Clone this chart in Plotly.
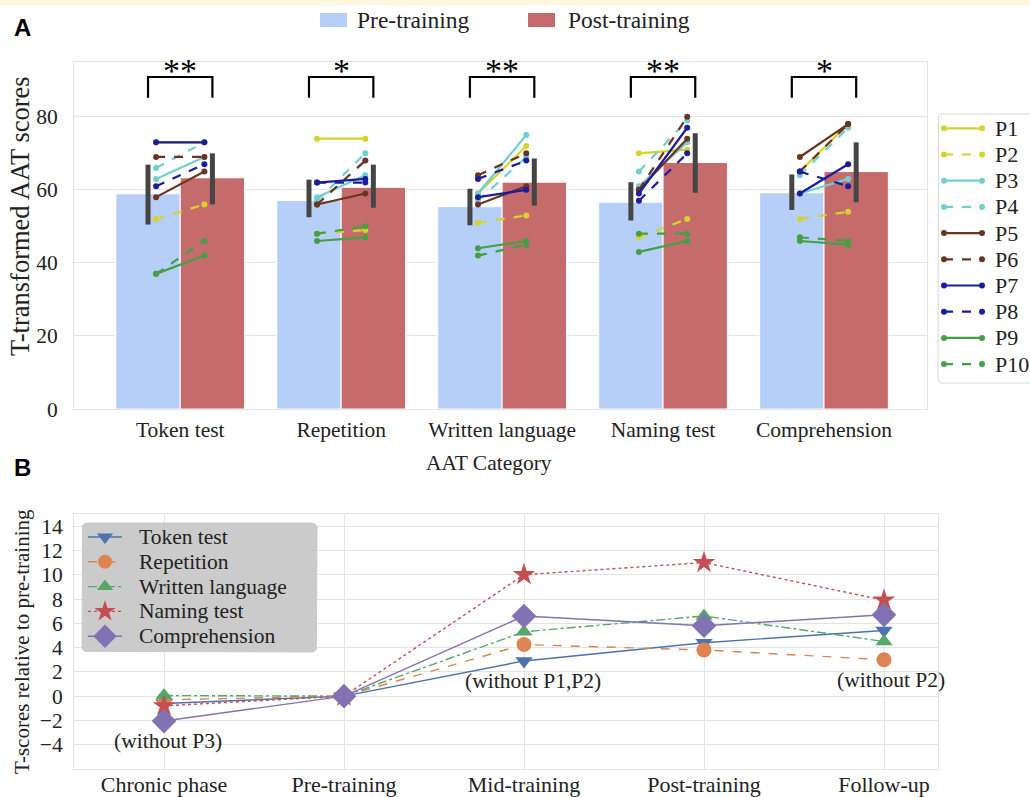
import math
import plotly.graph_objects as go

# ---------------- Panel A data ----------------
categories = ["Token test", "Repetition", "Written language", "Naming test", "Comprehension"]
pre_means = [58.9, 57.1, 55.4, 56.6, 59.2]
post_means = [63.3, 60.7, 62.1, 67.5, 65.0]
pre_ci_low = [50.5, 52.5, 50.3, 51.6, 54.5]
pre_ci_high = [66.9, 62.8, 60.3, 62.1, 64.2]
post_ci_low = [56.0, 55.1, 55.7, 59.2, 56.6]
post_ci_high = [70.0, 66.9, 68.6, 75.5, 73.0]
significance = ["**", "*", "**", "**", "*"]

participants = ["P1", "P2", "P3", "P4", "P5", "P6", "P7", "P8", "P9", "P10"]
pre_scores = {
    "P1": [73, 74, 59, 70, 65],
    "P2": [52, 48, 51, 47, 52],
    "P3": [63, 58, 59, 61, 59],
    "P4": [66, 57, 57, 65, 64],
    "P5": [58, 56, 56, 60, 69],
    "P6": [69, 56, 64, 60, 65],
    "P7": [73, 62, 58, 59, 59],
    "P8": [61, 62, 63, 57, 65],
    "P9": [37, 46, 44, 43, 46],
    "P10": [37, 48, 42, 48, 47],
}
post_scores = {
    "P1": [73, 74, 72, 71, 78],
    "P2": [56, 49, 53, 52, 54],
    "P3": [69, 64, 75, 73, 63],
    "P4": [73, 70, 69, 79, 77],
    "P5": [65, 59, 61, 74, 78],
    "P6": [69, 68, 70, 80, 78],
    "P7": [73, 63, 60, 77, 67],
    "P8": [67, 62, 68, 70, 61],
    "P9": [42, 47, 46, 46, 45],
    "P10": [46, 50, 45, 48, 46],
}
participant_colors = {
    "P1": "#d6d22e", "P2": "#d6d22e",
    "P3": "#72cfcf", "P4": "#72cfcf",
    "P5": "#6b3420", "P6": "#6b3420",
    "P7": "#1c1c9c", "P8": "#1c1c9c",
    "P9": "#45a045", "P10": "#45a045",
}

# ---------------- Panel B data ----------------
phases = ["Chronic phase", "Pre-training", "Mid-training", "Post-training", "Follow-up"]
token_rel = [-0.6, 0.0, 2.9, 4.4, 5.4]
repetition_rel = [-0.3, 0.0, 4.25, 3.8, 3.0]
written_rel = [0.05, 0.0, 5.3, 6.6, 4.5]
naming_rel = [-0.8, 0.0, 10.0, 11.0, 7.9]
comprehension_rel = [-2.05, 0.0, 6.6, 5.8, 6.7]

FONT = "Liberation Serif, Times New Roman, serif"
TXT = "#222222"
GRID = "#e3e3e3"
W, H = 1030, 797
PRE_COL, POST_COL = "#b6cff8", "#c66b6b"

fig = go.Figure()
idx = list(range(len(categories)))

fig.add_trace(go.Bar(
    x=idx, y=pre_means, name="Pre-training", marker_color=PRE_COL,
    marker_line_color="white", marker_line_width=1, showlegend=False,
    error_y=dict(type="data", symmetric=False,
                 array=[h - m for h, m in zip(pre_ci_high, pre_means)],
                 arrayminus=[m - l for l, m in zip(pre_ci_low, pre_means)],
                 thickness=5, width=0, color="#454545"),
    xaxis="x", yaxis="y"))
fig.add_trace(go.Bar(
    x=idx, y=post_means, name="Post-training", marker_color=POST_COL,
    marker_line_color="white", marker_line_width=1, showlegend=False,
    error_y=dict(type="data", symmetric=False,
                 array=[h - m for h, m in zip(post_ci_high, post_means)],
                 arrayminus=[m - l for l, m in zip(post_ci_low, post_means)],
                 thickness=5, width=0, color="#454545"),
    xaxis="x", yaxis="y"))

for i, p in enumerate(participants):
    xs, ys = [], []
    for c in idx:
        xs += [c - 0.15, c + 0.15, None]
        ys += [pre_scores[p][c], post_scores[p][c], None]
    fig.add_trace(go.Scatter(
        x=xs, y=ys, mode="lines+markers", name=p, showlegend=False,
        line=dict(color=participant_colors[p], width=2.2,
                  dash="solid" if i % 2 == 0 else "dash"),
        marker=dict(color=participant_colors[p], size=6),
        xaxis="x", yaxis="y"))

# significance brackets
bracket_top = 90.9
bracket_bottom = 85.2
shapes = []
annotations = []
for c, s in zip(idx, significance):
    shapes.append(dict(type="path", xref="x", yref="y",
                       path=f"M {c-0.2},{bracket_bottom} L {c-0.2},{bracket_top} L {c+0.2},{bracket_top} L {c+0.2},{bracket_bottom}",
                       line=dict(color="black", width=2.2)))
    annotations.append(dict(x=c, y=bracket_top, xref="x", yref="y", text=s,
                            showarrow=False, yanchor="bottom", yshift=-14,
                            font=dict(family=FONT, size=34, color="black")))

# ---------------- Panel B traces ----------------
pidx = list(range(len(phases)))
series_b = [
    ("Token test", token_rel, "#4c72b0", "solid", "triangle-down", 15),
    ("Repetition", repetition_rel, "#dd8452", "dash", "circle", 15),
    ("Written language", written_rel, "#55a868", "dashdot", "triangle-up", 15),
    ("Naming test", naming_rel, "#c44e52", "dot", "star", 17),
    ("Comprehension", comprehension_rel, "#8172b3", "solid", "diamond", 19),
]
for name, vals, col, dash, sym, sz in series_b:
    fig.add_trace(go.Scatter(
        x=pidx, y=vals, mode="lines+markers", name=name, showlegend=False,
        line=dict(color=col, width=1.4, dash=dash),
        marker=dict(color=col, symbol=sym, size=sz),
        xaxis="x2", yaxis="y2"))

notes_b = [("(without P3)", 0.02, -3.66), ("(without P1,P2)", 2.05, 1.21), ("(without P2)", 4.04, 1.3)]
for t, xx, yy in notes_b:
    annotations.append(dict(x=xx, y=yy, xref="x2", yref="y2", text=t, showarrow=False,
                            font=dict(family=FONT, size=21.5, color=TXT)))


# ---------------- hand-drawn legends on a pixel overlay axis ----------------
def px(x):
    return x / W


def py(y):
    return 1 - y / H


def rounded_box(x0, y0, x1, y1, r):
    xs, ys = [], []
    corners = [(x1 - r, y0 + r, -90, 0), (x1 - r, y1 - r, 0, 90),
               (x0 + r, y1 - r, 90, 180), (x0 + r, y0 + r, 180, 270)]
    for cx, cy, a0, a1 in corners:
        for k in range(7):
            a = math.radians(a0 + (a1 - a0) * k / 6)
            xs.append(cx + r * math.cos(a))
            ys.append(cy + r * math.sin(a))
    xs.append(xs[0])
    ys.append(ys[0])
    return xs, ys


def overlay(**kw):
    fig.add_trace(go.Scatter(xaxis="x3", yaxis="y3", showlegend=False, hoverinfo="skip", **kw))


# top legend (Pre / Post)
for (x0, x1), (tx, label), col in [((320, 347), (355, "Pre-training"), PRE_COL),
                                   ((528, 555), (566, "Post-training"), POST_COL)]:
    overlay(x=[x0, x1, x1, x0, x0], y=[13, 13, 27, 27, 13], mode="lines", fill="toself",
            fillcolor=col, line=dict(width=0, color=col))
    annotations.append(dict(x=px(tx), y=py(20), xref="paper", yref="paper", text=label,
                            showarrow=False, xanchor="left", yanchor="middle",
                            font=dict(family=FONT, size=23.5, color=TXT)))

# participant legend
bx, by = rounded_box(938, 114, 1040, 383, 4)
overlay(x=bx, y=by, mode="lines", fill="toself", fillcolor="white",
        line=dict(color="#d8d8d8", width=1))
for i, p in enumerate(participants):
    yc = 128.3 + i * 26.2
    overlay(x=[944, 982], y=[yc, yc], mode="lines+markers",
            line=dict(color=participant_colors[p], width=2.2, dash="solid" if i % 2 == 0 else "dash"),
            marker=dict(color=participant_colors[p], size=6))
    annotations.append(dict(x=px(993), y=py(yc), xref="paper", yref="paper", text=p,
                            showarrow=False, xanchor="left", yanchor="middle",
                            font=dict(family=FONT, size=22, color=TXT)))

# panel B legend
bx, by = rounded_box(82, 523, 317, 652, 5)
overlay(x=bx, y=by, mode="lines", fill="toself", fillcolor="rgba(200,200,200,0.95)",
        line=dict(color="rgba(200,200,200,0.95)", width=1))
for i, (name, vals, col, dash, sym, sz) in enumerate(series_b):
    yc = 537 + i * 24.8
    overlay(x=[88, 122], y=[yc, yc], mode="lines", line=dict(color=col, width=1.4, dash=dash))
    overlay(x=[105], y=[yc], mode="markers", marker=dict(color=col, symbol=sym, size=sz - 1))
    annotations.append(dict(x=px(137), y=py(yc), xref="paper", yref="paper", text=name,
                            showarrow=False, xanchor="left", yanchor="middle",
                            font=dict(family=FONT, size=21.5, color=TXT)))

# axis titles placed as text
annotations.append(dict(x=px(20), y=py(216), xref="paper", yref="paper",
                        text="T-transformed AAT scores", textangle=-90, showarrow=False,
                        xanchor="center", yanchor="middle", font=dict(family=FONT, size=26.5, color=TXT)))
annotations.append(dict(x=px(22), y=py(642), xref="paper", yref="paper",
                        text="T-scores relative to pre-training", textangle=-90, showarrow=False,
                        xanchor="center", yanchor="middle", font=dict(family=FONT, size=21, color=TXT)))
annotations.append(dict(x=px(489), y=py(463), xref="paper", yref="paper",
                        text="AAT Category", showarrow=False,
                        xanchor="center", yanchor="middle", font=dict(family=FONT, size=21.5, color=TXT)))

# panel labels
annotations.append(dict(x=px(12), y=py(28), xref="paper", yref="paper", text="<b>A</b>",
                        showarrow=False, xanchor="left", yanchor="middle",
                        font=dict(family="Liberation Sans Narrow, Liberation Sans, Arial", size=24, color="black")))
annotations.append(dict(x=px(12), y=py(467), xref="paper", yref="paper", text="<b>B</b>",
                        showarrow=False, xanchor="left", yanchor="middle",
                        font=dict(family="Liberation Sans Narrow, Liberation Sans, Arial", size=24, color="black")))

# top cream band
shapes.append(dict(type="rect", xref="paper", yref="paper", x0=0, x1=1, y0=py(5), y1=1,
                   fillcolor="#fdf7e0", line=dict(width=0), layer="below"))

fig.update_layout(
    width=W, height=H, margin=dict(l=0, r=0, t=0, b=0, autoexpand=False),
    paper_bgcolor="white", plot_bgcolor="rgba(0,0,0,0)",
    font=dict(family=FONT, size=21.5, color=TXT),
    barmode="group", bargap=0.2, bargroupgap=0, showlegend=False,
    shapes=shapes, annotations=annotations,
    xaxis=dict(domain=[px(74), px(927)], anchor="y", range=[-0.66, 4.64], automargin=False,
               tickmode="array", tickvals=idx, ticktext=categories,
               showgrid=False, zeroline=False, showline=True, mirror=True,
               linecolor=GRID, linewidth=1, ticklabelstandoff=1, tickfont=dict(size=21.5)),
    yaxis=dict(domain=[py(409), py(62)], anchor="x", range=[0, 95], automargin=False,
               tickvals=[0, 20, 40, 60, 80], showgrid=True, gridcolor=GRID,
               zeroline=False, showline=True, mirror=True, linecolor=GRID, linewidth=1,
               ticklabelstandoff=11, tickfont=dict(size=21.5)),
    xaxis2=dict(domain=[px(74), px(938)], anchor="y2", range=[-0.5, 4.3], automargin=False,
                tickmode="array", tickvals=pidx, ticktext=phases,
                showgrid=True, gridcolor=GRID, zeroline=False, showline=True, mirror=True,
                linecolor=GRID, linewidth=1, ticklabelstandoff=-4, tickfont=dict(size=22)),
    yaxis2=dict(domain=[py(769), py(514)], anchor="x2", range=[-6, 15], automargin=False,
                tickmode="array", tickvals=[-4, -2, 0, 2, 4, 6, 8, 10, 12, 14],
                showgrid=True, gridcolor=GRID, zeroline=False, showline=True, mirror=True,
                linecolor=GRID, linewidth=1, ticklabelstandoff=6, tickfont=dict(size=21.5)),
    xaxis3=dict(domain=[0, 1], anchor="y3", range=[0, W], visible=False, fixedrange=True),
    yaxis3=dict(domain=[0, 1], anchor="x3", range=[H, 0], visible=False, fixedrange=True),
)

fig.write_html("out.html", config={"displayModeBar": False},
               post_script="document.body.style.margin='0px';document.body.style.overflow='hidden';")
